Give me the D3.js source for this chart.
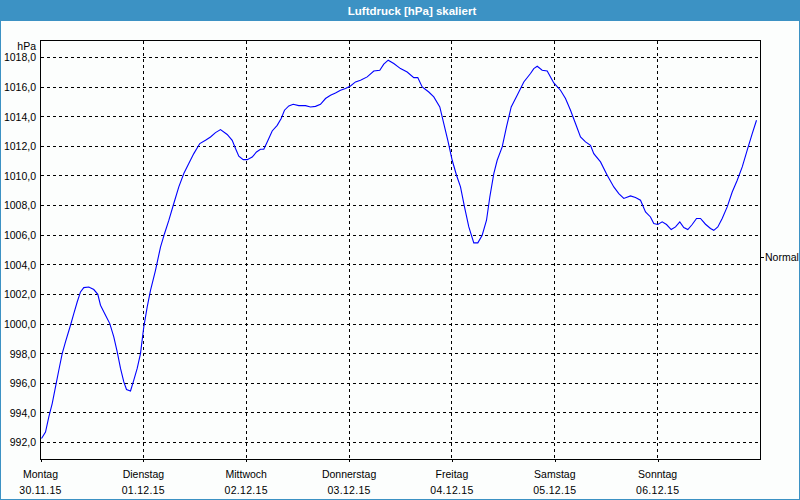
<!DOCTYPE html>
<html><head><meta charset="utf-8">
<script src="https://cdn.jsdelivr.net/npm/d3@7"></script>
<style>html,body{margin:0;padding:0;background:#fff;}svg{display:block;}</style>
</head><body>
<svg id="c" width="800" height="500"></svg>
<script>
// ---- data ----
const title = "Luftdruck [hPa] skaliert";
const unitLabel = "hPa";
const dayNames = ["Montag","Dienstag","Mittwoch","Donnerstag","Freitag","Samstag","Sonntag"];
const dayDates = ["30.11.15","01.12.15","02.12.15","03.12.15","04.12.15","05.12.15","06.12.15"];
const yTicks = [992,994,996,998,1000,1002,1004,1006,1008,1010,1012,1014,1016,1018];
const normalLabel = "Normal";
const normalValue = 1004.5;
// hours since Monday 30.11.15 00:00
const hours = [0.23,1.17,1.94,2.73,3.5,4.27,5.06,5.83,7.0,7.77,8.56,9.33,10.1,11.27,12.44,13.37,14.0,15.17,16.17,17.1,17.9,18.67,19.44,20.07,21.0,21.77,22.56,23.33,24.1,24.9,25.67,26.83,28.0,28.93,29.94,31.1,32.27,33.44,34.6,35.77,37.17,38.5,39.67,40.83,42.0,43.56,44.73,45.5,46.27,47.3,48.23,49.4,50.4,51.33,52.1,52.9,54.06,55.23,56.16,56.93,57.94,58.96,60.27,61.83,63.0,64.17,65.33,66.5,67.67,68.83,70.0,71.17,72.33,73.5,74.67,76.23,77.77,79.17,80.1,81.13,82.43,84.0,85.56,87.1,88.03,89.06,90.6,91.77,93.17,94.1,95.04,96.06,97.07,98.0,98.93,99.94,101.1,102.04,103.06,104.07,104.84,105.77,106.56,107.73,108.73,109.83,111.23,112.77,114.33,115.1,115.9,117.06,118.23,119.77,121.33,122.5,123.67,124.83,126.0,127.17,128.33,129.1,130.67,132.23,133.77,134.94,136.1,137.67,138.83,140.0,141.17,142.33,143.1,144.04,145.06,146.07,147.16,148.17,149.17,150.1,151.04,152.06,153.07,154.0,155.17,156.33,157.1,158.04,159.06,160.23,161.4,162.57,163.74,164.9,166.07,167.07];
const pressure = [992.27,992.7,993.73,994.63,995.75,996.88,998.0,998.8,999.92,1000.71,1001.49,1002.17,1002.46,1002.5,1002.33,1002.01,1001.27,1000.6,1000.03,999.13,998.12,997.0,996.09,995.58,995.48,996.21,997.0,998.0,999.8,1001.16,1002.28,1003.63,1005.2,1006.1,1007.0,1008.14,1009.26,1010.16,1010.84,1011.51,1012.19,1012.41,1012.63,1012.93,1013.13,1012.8,1012.41,1011.85,1011.33,1011.1,1011.1,1011.28,1011.62,1011.8,1011.8,1012.3,1013.04,1013.42,1013.88,1014.44,1014.73,1014.84,1014.75,1014.75,1014.66,1014.7,1014.84,1015.23,1015.45,1015.6,1015.79,1015.9,1016.08,1016.35,1016.46,1016.69,1017.09,1017.14,1017.55,1017.82,1017.59,1017.25,1017.02,1016.64,1016.64,1016.01,1015.67,1015.34,1014.66,1013.54,1012.41,1011.06,1010.05,1009.26,1007.91,1006.56,1005.48,1005.48,1006.0,1007.01,1008.58,1010.16,1011.06,1011.96,1013.31,1014.66,1015.45,1016.35,1016.92,1017.25,1017.41,1017.14,1017.09,1016.28,1015.79,1015.23,1014.44,1013.54,1012.63,1012.3,1012.07,1011.51,1010.95,1010.05,1009.26,1008.81,1008.48,1008.65,1008.54,1008.36,1007.57,1007.23,1006.79,1006.72,1006.9,1006.72,1006.38,1006.56,1006.9,1006.52,1006.38,1006.72,1007.13,1007.13,1006.74,1006.45,1006.33,1006.56,1007.13,1007.91,1008.92,1009.71,1010.61,1011.74,1012.86,1013.76];

// ---- layout ----
const W = 800, H = 500;
const L = 40.5, R = 760.5, T = 40.5, B = 459.5;
const font = "'Liberation Sans', Arial, sans-serif";

const svg = d3.select("#c");
svg.append("rect").attr("x",0).attr("y",0).attr("width",W).attr("height",H).attr("fill","#fcfefd");
// window border
svg.append("rect").attr("x",0.5).attr("y",0.5).attr("width",W-1).attr("height",H-1)
  .attr("fill","none").attr("stroke","#3c92c4");
// title bar
svg.append("rect").attr("x",0).attr("y",0).attr("width",W).attr("height",21).attr("fill","#3c92c4");
svg.append("text").attr("x",412).attr("y",14.5).attr("text-anchor","middle")
  .attr("font-family",font).attr("font-size","11.5px").attr("font-weight","bold")
  .attr("fill","#fff").text(title);

const x = d3.scaleLinear().domain([0,168]).range([L,R]);
const y = d3.scaleLinear().domain([992,1018]).range([442.5,57.5]);
const crisp = v => Math.round(v - 0.5) + 0.5;

const fmt = d3.formatLocale({decimal:",",thousands:".",grouping:[3],currency:["","€"]}).format(".1f");

// horizontal grid
svg.append("g").selectAll("line").data(yTicks).join("line")
  .attr("x1",L).attr("x2",R)
  .attr("y1",d=>crisp(y(d))).attr("y2",d=>crisp(y(d)))
  .attr("stroke","#000").attr("stroke-dasharray","3,3").attr("shape-rendering","crispEdges");
// vertical grid
const dayHours = dayNames.map((d,i)=>i*24);
svg.append("g").selectAll("line").data(dayHours.slice(1)).join("line")
  .attr("x1",d=>crisp(x(d))).attr("x2",d=>crisp(x(d)))
  .attr("y1",T).attr("y2",B)
  .attr("stroke","#000").attr("stroke-dasharray","3,3").attr("shape-rendering","crispEdges");

// frame
svg.append("rect").attr("x",L).attr("y",T).attr("width",R-L).attr("height",B-T)
  .attr("fill","none").attr("stroke","#000").attr("shape-rendering","crispEdges");

// y axis labels
const yAxis = d3.axisLeft(y).tickValues(yTicks).tickSize(0).tickPadding(4).tickFormat(fmt);
const gy = svg.append("g").attr("transform",`translate(${L},0)`).call(yAxis);
gy.select(".domain").remove();
gy.selectAll("text").attr("font-family",font).attr("font-size","10.5px").attr("fill","#000")
  .attr("x",-4.5);
svg.append("text").attr("x",36).attr("y",49.5).attr("text-anchor","end")
  .attr("font-family",font).attr("font-size","10.5px").attr("fill","#000").text(unitLabel);

// x axis
const xAxis = d3.axisBottom(x).tickValues(dayHours).tickSize(3).tickFormat("");
const gx = svg.append("g").attr("transform",`translate(0,${B})`).call(xAxis);
gx.select(".domain").remove();
gx.selectAll(".tick line").attr("stroke","#000").attr("shape-rendering","crispEdges")
  .attr("transform","translate(0,-0.5)");
const lab = svg.append("g").selectAll("g").data(dayHours).join("g")
  .attr("transform",d=>`translate(${x(d)},0)`);
lab.append("text").attr("y",478).attr("text-anchor","middle")
  .attr("font-family",font).attr("font-size","10.5px").attr("fill","#000")
  .text((d,i)=>dayNames[i]);
lab.append("text").attr("y",494).attr("text-anchor","middle")
  .attr("font-family",font).attr("font-size","10.5px").attr("fill","#000")
  .attr("letter-spacing","0.3px")
  .text((d,i)=>dayDates[i]);

// Normal marker
svg.append("line").attr("x1",R+0.5).attr("x2",R+3.5)
  .attr("y1",crisp(y(normalValue))).attr("y2",crisp(y(normalValue)))
  .attr("stroke","#000").attr("shape-rendering","crispEdges");
svg.append("text").attr("x",765).attr("y",y(normalValue)+4)
  .attr("font-family",font).attr("font-size","10.5px").attr("fill","#000").text(normalLabel);

// curve
const pts = hours.map((h,i)=>[h,pressure[i]]);
const line = d3.line().x(d=>x(d[0])).y(d=>y(d[1]));
svg.append("path").datum(pts).attr("d",line)
  .attr("fill","none").attr("stroke","#0000ff").attr("stroke-width",1.1);
</script>
</body></html>
